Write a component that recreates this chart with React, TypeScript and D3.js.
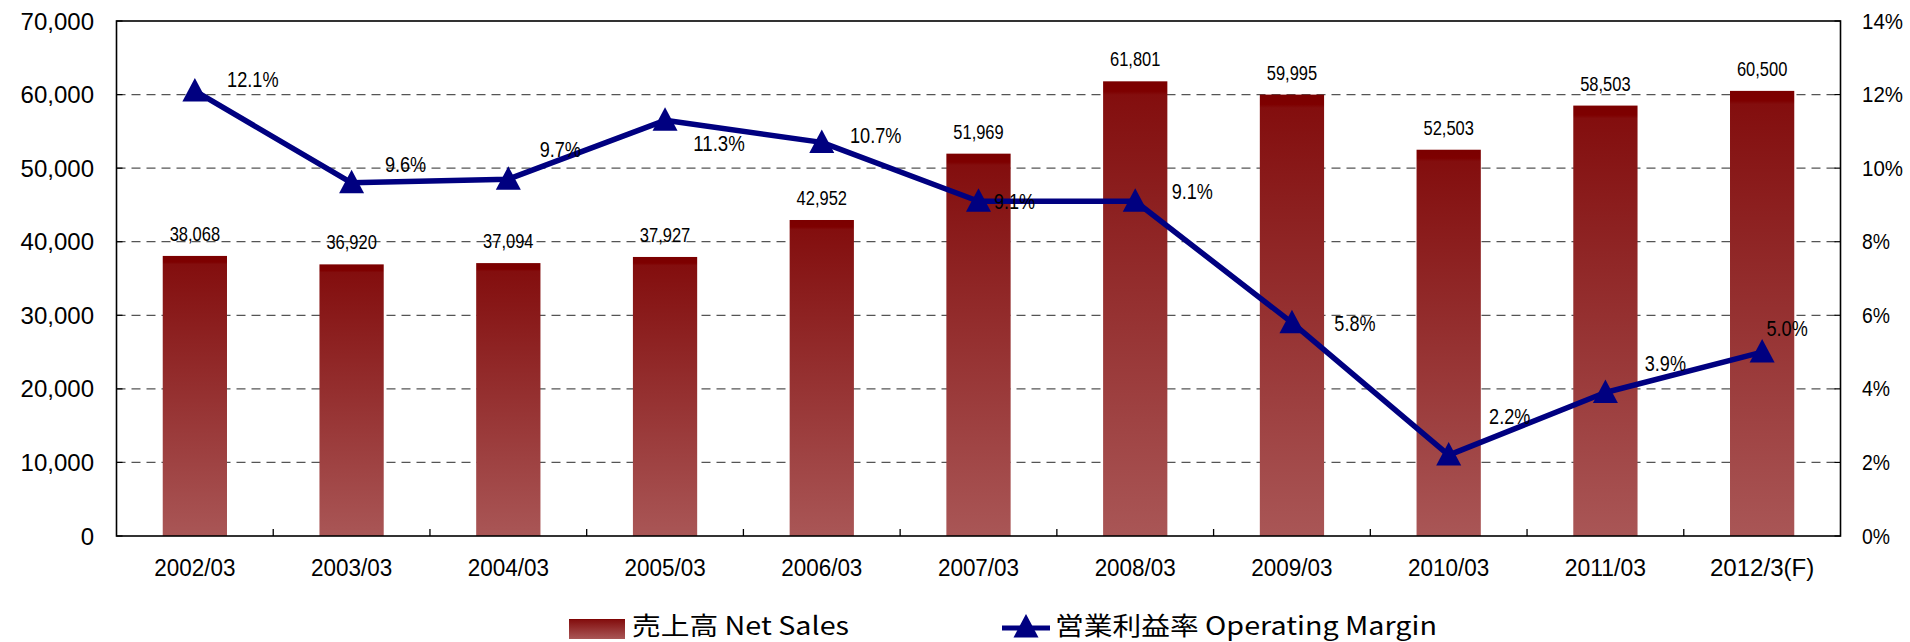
import React from "react";
import * as d3 from "d3";

const categories = ["2002/03", "2003/03", "2004/03", "2005/03", "2006/03", "2007/03", "2008/03", "2009/03", "2010/03", "2011/03", "2012/3(F)"];
const netSales = [38068, 36920, 37094, 37927, 42952, 51969, 61801, 59995, 52503, 58503, 60500];
const opMargin = [12.1, 9.6, 9.7, 11.3, 10.7, 9.1, 9.1, 5.8, 2.2, 3.9, 5.0];
const salesTicks = [0, 10000, 20000, 30000, 40000, 50000, 60000, 70000];
const marginTicks = [0, 2, 4, 6, 8, 10, 12, 14];
const seriesNames = ["売上高 Net Sales", "営業利益率 Operating Margin"];
// label nudges (dx, dy) relative to marker, as placed in the original
const marginLabelNudge: [number, number][] = [
  [58, -11], [54, -18], [52, -30], [54, 23], [54, -7], [36, 0], [57, -10], [63, 1], [61, -39], [60, -29], [25, -24],
];

const W = 1910;
const H = 642;
const plot = { left: 116.5, right: 1840.5, top: 21, bottom: 536 };

export default function App() {
  const x = d3.scaleBand<string>().domain(categories).range([plot.left, plot.right]).paddingInner(0.59).paddingOuter(0.295);
  const band = (plot.right - plot.left) / categories.length;
  const yL = d3.scaleLinear().domain([0, 70000]).range([plot.bottom, plot.top]);
  const yR = d3.scaleLinear().domain([0, 14]).range([plot.bottom, plot.top]);
  const cx = (c: string) => (x(c) as number) + x.bandwidth() / 2;
  const fmt = d3.format(",");
  const line = d3.line<number>().x((_, i) => cx(categories[i])).y((v) => yR(v));
  const tri = "M0,-13L12.5,10.5L-12.5,10.5Z";
  const numFont = "'Liberation Sans', Arial, sans-serif";
  const cjkFont = "'Noto Sans CJK JP', 'Liberation Sans', sans-serif";

  return (
    <svg width={W} height={H} style={{ position: "absolute", left: 0, top: 0, background: "#fff" }}>
      <defs>
        <linearGradient id="barGrad" x1="0" y1="0" x2="0" y2="1">
          <stop offset="0" stopColor="#7b0000" />
          <stop offset="0.022" stopColor="#7e0000" />
          <stop offset="0.03" stopColor="#830e0e" />
          <stop offset="1" stopColor="#a95656" />
        </linearGradient>
      </defs>

      {/* gridlines */}
      {salesTicks.filter((t) => t > 0 && t < 70000).map((t) => (
        <line key={t} x1={plot.left} x2={plot.right} y1={yL(t)} y2={yL(t)} stroke="#555" strokeWidth={1.3} strokeDasharray="9,6" />
      ))}

      {/* bars */}
      {netSales.map((v, i) => (
        <rect key={i} x={x(categories[i])} y={yL(v)} width={x.bandwidth()} height={plot.bottom - yL(v)} fill="url(#barGrad)" />
      ))}

      {/* bar labels */}
      {netSales.map((v, i) => {
        const s = fmt(v);
        return (
          <text key={i} x={cx(categories[i])} y={yL(v) - 15} textAnchor="middle" fontFamily={numFont} fontSize={20}
            textLength={s.length * 8.4} lengthAdjust="spacingAndGlyphs" fill="#000">{s}</text>
        );
      })}

      {/* frame */}
      <rect x={plot.left} y={plot.top} width={plot.right - plot.left} height={plot.bottom - plot.top} fill="none" stroke="#000" strokeWidth={1.6} />

      {/* x ticks at category boundaries */}
      {categories.slice(1).map((c, i) => {
        const xx = plot.left + band * (i + 1);
        return <line key={c} x1={xx} x2={xx} y1={plot.bottom} y2={plot.bottom - 7} stroke="#000" strokeWidth={1.3} />;
      })}
      {/* y ticks */}
      {salesTicks.map((t) => (
        <g key={t}>
          <line x1={plot.left} x2={plot.left + 6} y1={yL(t)} y2={yL(t)} stroke="#000" strokeWidth={1.2} />
          <line x1={plot.right - 6} x2={plot.right} y1={yL(t)} y2={yL(t)} stroke="#000" strokeWidth={1.2} />
        </g>
      ))}

      {/* line series */}
      <path d={line(opMargin) || ""} fill="none" stroke="#000080" strokeWidth={5.5} strokeLinejoin="round" />
      {opMargin.map((v, i) => (
        <path key={i} d={tri} transform={`translate(${cx(categories[i])},${yR(v)})`} fill="#000080" />
      ))}
      {opMargin.map((v, i) => {
        const s = v.toFixed(1) + "%";
        const [dx, dy] = marginLabelNudge[i];
        return (
          <text key={i} x={cx(categories[i]) + dx} y={yR(v) + dy} dominantBaseline="central" textAnchor="middle" fontFamily={numFont}
            fontSize={22} textLength={s.length * 10.3} lengthAdjust="spacingAndGlyphs" fill="#000">{s}</text>
        );
      })}

      {/* left axis labels */}
      {salesTicks.map((t) => (
        <text key={t} x={94} y={yL(t)} dominantBaseline="central" textAnchor="end" fontFamily={numFont} fontSize={24} fill="#000">{fmt(t)}</text>
      ))}
      {/* right axis labels */}
      {marginTicks.map((t) => {
        const s = t + "%";
        return (
          <text key={t} x={1862} y={yR(t)} dominantBaseline="central" textAnchor="start" fontFamily={numFont} fontSize={22}
            textLength={String(t).length * 13 + 15} lengthAdjust="spacingAndGlyphs" fill="#000">{s}</text>
        );
      })}

      {/* category labels */}
      {categories.map((c) => (
        <text key={c} x={cx(c)} y={576} textAnchor="middle" fontFamily={numFont} fontSize={23.5}
          textLength={c.length * 11.6} lengthAdjust="spacingAndGlyphs" fill="#000">{c}</text>
      ))}

      {/* legend */}
      <rect x={569} y={619} width={56} height={20} fill="url(#barGrad)" />
      <text x={632} y={634.5} fontFamily={cjkFont} fontSize={25} textLength={217} lengthAdjust="spacingAndGlyphs" fill="#000">{seriesNames[0]}</text>
      <line x1={1002} x2={1050} y1={628} y2={628} stroke="#000080" strokeWidth={5} />
      <path d={tri} transform="translate(1026,627)" fill="#000080" />
      <text x={1055} y={634.5} fontFamily={cjkFont} fontSize={25} textLength={382} lengthAdjust="spacingAndGlyphs" fill="#000">{seriesNames[1]}</text>
    </svg>
  );
}
